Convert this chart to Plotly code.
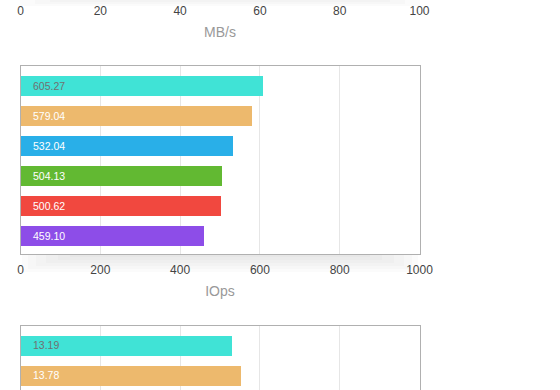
import plotly.graph_objects as go

# ---------------- data ----------------
iops_values = [605.27, 579.04, 532.04, 504.13, 500.62, 459.10]
iops_labels = ["605.27", "579.04", "532.04", "504.13", "500.62", "459.10"]
bottom_values = [13.19, 13.78]
bottom_labels = ["13.19", "13.78"]
bar_colors = ["#40E3D6", "#EDB96D", "#29AFE8", "#62B932", "#F1483F", "#8D4DE8"]
label_colors = ["#707070", "#FFFFFF", "#FFFFFF", "#FFFFFF", "#FFFFFF", "#FFFFFF"]
mbs_ticks = [0, 20, 40, 60, 80, 100]
iops_ticks = [0, 200, 400, 600, 800, 1000]

W, H = 560, 390
FONT = "Liberation Sans, Arial, Helvetica, sans-serif"


def py(px):
    return 1 - px / H


xdom = [20.5 / W, 419.5 / W]

fig = go.Figure()

# middle chart (IOps)
fig.add_trace(go.Bar(
    x=iops_values, y=list(range(len(iops_values))), orientation="h",
    marker=dict(color=bar_colors, line=dict(width=0)), width=0.667,
    xaxis="x", yaxis="y", hoverinfo="skip", showlegend=False))

# bottom chart
fig.add_trace(go.Bar(
    x=bottom_values, y=list(range(len(bottom_values))), orientation="h",
    marker=dict(color=bar_colors[:len(bottom_values)], line=dict(width=0)), width=0.667,
    xaxis="x3", yaxis="y3", hoverinfo="skip", showlegend=False))

# top chart (only its axis is visible in the crop)
fig.add_trace(go.Scatter(x=[], y=[], xaxis="x2", yaxis="y2", showlegend=False,
                         hoverinfo="skip"))

annotations = []
for i, t in enumerate(iops_labels):
    annotations.append(dict(x=0, y=i, xref="x", yref="y", text=t, showarrow=False,
                            xanchor="left", xshift=10,
                            font=dict(family=FONT, size=10.5, color=label_colors[i])))
for i, t in enumerate(bottom_labels):
    annotations.append(dict(x=0, y=i, xref="x3", yref="y3", text=t, showarrow=False,
                            xanchor="left", xshift=10,
                            font=dict(family=FONT, size=10.5, color=label_colors[i])))

# soft shadow below the IOps axis and at top of page
shapes = []
for k, (h, inset) in enumerate([(3, 50), (6, 38), (9, 26), (12, 16), (15, 8), (18, 2)]):
    shapes.append(dict(type="rect", xref="paper", yref="paper",
                       x0=(20 + inset) / W, x1=(420 - inset) / W,
                       y0=py(254 + h), y1=py(254),
                       fillcolor="rgba(0,0,0,0.014)", line=dict(width=0), layer="below"))
for k, (h, inset) in enumerate([(2, 30), (4, 15), (6, 0)]):
    shapes.append(dict(type="rect", xref="paper", yref="paper",
                       x0=(20 + inset) / W, x1=(420 - inset) / W,
                       y0=py(h), y1=1,
                       fillcolor="rgba(0,0,0,0.015)", line=dict(width=0), layer="below"))

tickfont = dict(family=FONT, size=12, color="#444444")
titlefont = dict(family=FONT, size=14, color="#999999")

fig.update_layout(
    width=W, height=H,
    margin=dict(l=0, r=0, t=0, b=0, autoexpand=False),
    paper_bgcolor="white", plot_bgcolor="white",
    bargap=0,
    annotations=annotations,
    shapes=shapes,
    xaxis=dict(domain=xdom, anchor="y", range=[0, 1000], tickvals=iops_ticks,
               showgrid=True, gridcolor="#E6E6E6", gridwidth=1, zeroline=False,
               showline=True, linecolor="#B0B0B0", linewidth=1, mirror=True,
               ticks="", tickfont=tickfont, ticklabelstandoff=5, automargin=False,
               title=dict(text="IOps", font=titlefont, standoff=10)),
    yaxis=dict(domain=[py(253.5), py(65.5)], anchor="x", range=[5.6, -0.667],
               showgrid=False, zeroline=False, showticklabels=False, automargin=False,
               showline=True, linecolor="#B0B0B0", linewidth=1, mirror=True),
    xaxis2=dict(domain=xdom, anchor="y2", range=[0, 100], tickvals=mbs_ticks,
                showgrid=False, zeroline=False, showline=False, ticks="",
                tickfont=tickfont, ticklabelstandoff=-2, automargin=False,
                title=dict(text="MB/s", font=titlefont, standoff=10)),
    yaxis2=dict(domain=[py(4), 1], anchor="x2", range=[0, 1], showgrid=False,
                zeroline=False, showticklabels=False, showline=False, automargin=False),
    xaxis3=dict(domain=xdom, anchor="y3", range=[0, 25], dtick=5, side="top",
                showgrid=True, gridcolor="#E6E6E6", zeroline=False, automargin=False,
                showline=True, linecolor="#B0B0B0", linewidth=1,
                showticklabels=False, ticks=""),
    yaxis3=dict(domain=[0, py(325.5)], anchor="x3", range=[1.5, -0.667],
                showgrid=False, zeroline=False, showticklabels=False, automargin=False,
                showline=True, linecolor="#B0B0B0", linewidth=1, mirror=True),
)

fig.write_html("out.html", config={"displayModeBar": False},
               post_script="document.body.style.margin='0';")
